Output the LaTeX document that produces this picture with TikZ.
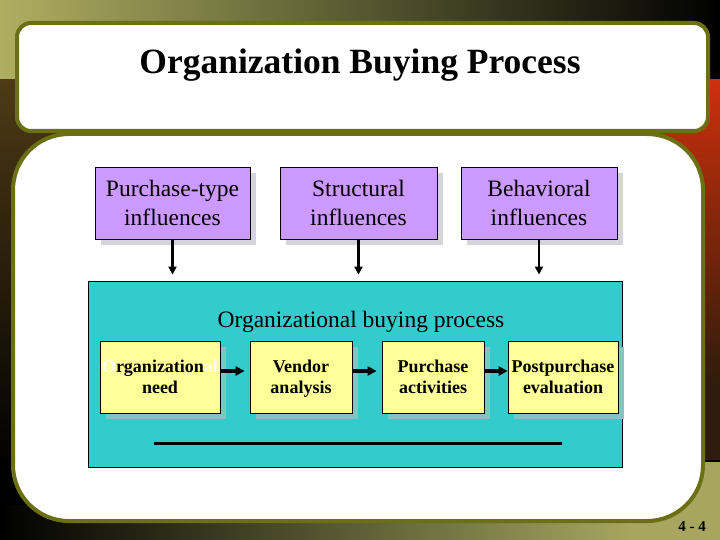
\documentclass[tikz,border=0pt]{standalone}
\usepackage{fontspec}
\setmainfont{Liberation Serif}
\usetikzlibrary{arrows.meta,shadows}
\definecolor{olivebd}{RGB}{107,112,20}
\definecolor{purp}{RGB}{204,153,255}
\definecolor{yel}{RGB}{255,255,153}
\definecolor{cyanbox}{RGB}{51,204,204}
\definecolor{pshadow}{RGB}{212,212,218}
\definecolor{yshadow}{RGB}{128,196,196}
\definecolor{bgolive}{RGB}{175,175,98}
\definecolor{bgmid}{RGB}{105,105,50}
\definecolor{bgbrown}{RGB}{78,58,22}
\definecolor{bgred}{RGB}{205,48,12}
\definecolor{bgdark}{RGB}{48,28,10}
\definecolor{bgolive2}{RGB}{166,166,96}
\begin{document}
\begin{tikzpicture}[x=1pt,y=-1pt,
  infl/.style={draw=black, line width=0.8pt, fill=purp, minimum width=156pt, minimum height=72pt,
    inner sep=0pt, align=center, font=\fontsize{23.5}{29}\selectfont, text depth=-2pt,
    drop shadow={shadow xshift=6pt, shadow yshift=-6pt, fill=pshadow, opacity=1}},
  stepbox/.style={draw=black, line width=0.8pt, fill=yel, minimum height=72pt,
    inner sep=0pt, align=center, font=\fontsize{18}{21}\selectfont\bfseries, text depth=-1.5pt,
    drop shadow={shadow xshift=6pt, shadow yshift=-6pt, fill=yshadow, opacity=1}},
  varrow/.style={line width=2.5pt, -{Triangle[length=8pt 0 0,width=8pt 0 0]}},
  harrow/.style={line width=3.5pt, -{Triangle[length=9pt 0 0,width=9pt 0 0]}}]
\useasboundingbox (0,0) rectangle (720,540);
% background
\fill[black] (0,0) rectangle (720,540);
\shade[left color=bgolive, middle color=bgmid, right color=black] (0,0) rectangle (720,80);
\shade[top color=bgbrown, bottom color=black] (0,80) rectangle (70,470);
\shade[top color=bgred, bottom color=bgdark] (650,80) rectangle (720,380);
\fill[bgdark] (650,380) rectangle (720,460);
\fill[bgolive2] (630,462) rectangle (720,540);
\shade[left color=black, right color=bgolive2] (0,505) rectangle (630,540);
% main white area
\draw[olivebd, line width=4pt, fill=white, rounded corners=56pt] (13,134) rectangle (703,521);
% title box
\node[draw=olivebd, line width=4pt, fill=white, rounded corners=14pt, minimum width=691pt,
  minimum height=108pt, inner sep=0pt] (titlebox) at (362.5,77) {};
\node[font=\fontsize{35.5}{40}\selectfont\bfseries] (title) at (360,65) {Organization Buying Process};
% influences
\node[infl, minimum width=155pt] (p1) at (172.5,203) {Purchase-type\\influences};
\node[infl, minimum width=157pt] (p2) at (358.5,203) {Structural\\influences};
\node[infl] (p3) at (539,203) {Behavioral\\influences};
% process box
\node[draw=black, line width=0.8pt, fill=cyanbox, minimum width=534pt, minimum height=186pt,
  inner sep=0pt] (cy) at (355,374) {};
\node[font=\fontsize{23.5}{29}\selectfont] (cytitle) at (361,322) {Organizational buying process};
\draw[varrow, shorten >=6pt] (p1.south) -- (p1.south |- cy.north);
\draw[varrow, shorten >=6pt] (p2.south) -- (p2.south |- cy.north);
\draw[varrow, shorten >=6pt] (p3.south) -- (p3.south |- cy.north);
% steps
\node[stepbox, minimum width=120pt] (s1) at (160,377) {\textcolor{white}{O}rganization\textcolor{white}{al}\\need};
\node[stepbox, minimum width=102pt] (s2) at (301,377) {Vendor\\analysis};
\node[stepbox, minimum width=102pt] (s3) at (433,377) {Purchase\\activities};
\node[stepbox, minimum width=110pt] (s4) at (563,377) {Postpurchase\\evaluation};
\draw[harrow, shorten >=5pt] (s1.east |- 0,371) -- (s2.west |- 0,371);
\draw[harrow, shorten >=5pt] (s2.east |- 0,371) -- (s3.west |- 0,371);
\draw[harrow] (s3.east |- 0,371) -- (s4.west |- 0,371);
\coordinate (la) at (154,443);
\coordinate (lb) at (562,443);
\draw[line width=3pt] (la) -- (lb);
% page number
\node[font=\fontsize{15}{18}\selectfont\bfseries] (pg) at (692,527) {4 - 4};
\end{tikzpicture}
\end{document}
